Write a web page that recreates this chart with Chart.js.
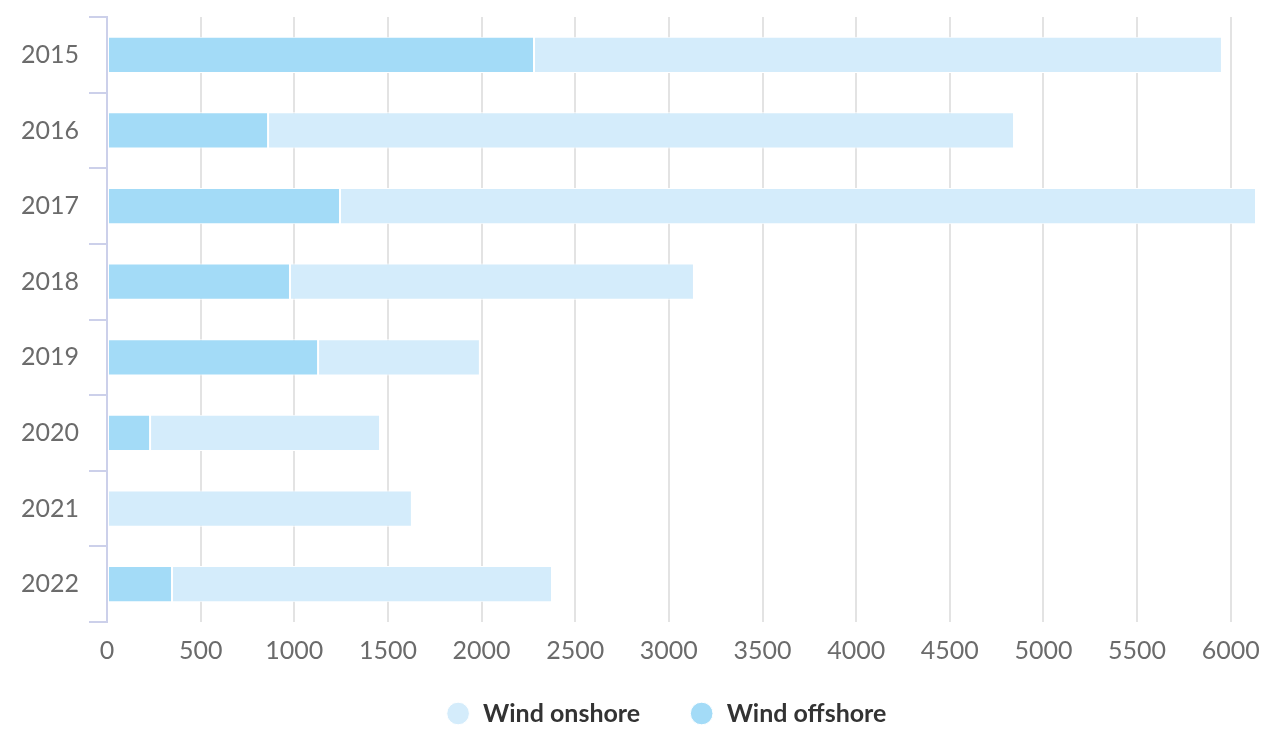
<!DOCTYPE html>
<html>
<head>
<meta charset="utf-8">
<script src="https://cdn.jsdelivr.net/npm/chart.js@4"></script>
<style>
html,body{margin:0;padding:0;background:#fff;}
#wrap{width:1263px;height:729px;}
</style>
</head>
<body>
<div id="wrap"><canvas id="c" width="1263" height="729"></canvas></div>
<script>
const categories = ["2015","2016","2017","2018","2019","2020","2021","2022"];
const offshore = [2280, 860, 1244, 977, 1127, 230, 0, 347];
const onshore  = [3673, 3983, 4891, 2157, 864, 1228, 1628, 2029];
const seriesNames = ["Wind offshore", "Wind onshore"];
const xMax = 6135;
const xStep = 500;

const FONT = "Lato, 'DejaVu Sans', sans-serif";

const legendFit = {
  id: 'legendFit',
  afterInit(chart) {
    const lg = chart.legend;
    const orig = lg.fit;
    lg.fit = function () { orig.call(this); this.height = 68; };
  },
  afterLayout(chart) {
    const lg = chart.legend;
    lg.left += 38; lg.right += 38;
    lg.top -= 9;
  }
};

new Chart(document.getElementById('c'), {
  type: 'bar',
  data: {
    labels: categories,
    datasets: [
      { label: seriesNames[0], data: offshore, backgroundColor: '#a3dbf7', borderColor: '#ffffff', borderWidth: 1, borderSkipped: false, barPercentage: 0.96, categoryPercentage: 0.5 },
      { label: seriesNames[1], data: onshore, backgroundColor: '#d4ecfb', borderColor: '#ffffff', borderWidth: 1, borderSkipped: false, barPercentage: 0.96, categoryPercentage: 0.5 }
    ]
  },
  plugins: [legendFit],
  options: {
    indexAxis: 'y',
    responsive: false,
    animation: false,
    layout: { padding: { top: 17, right: 7, left: 0, bottom: 0 } },
    scales: {
      x: {
        stacked: true,
        min: 0,
        max: xMax,
        afterBuildTicks: s => {
          const t = [];
          for (let v = 0; v <= xMax; v += xStep) t.push({ value: v });
          s.ticks = t;
        },
        afterFit: s => { s.height = 39; s.paddingRight = 0; s.paddingLeft = 0; },
        ticks: { callback: v => String(v), color: '#6b6b6b', font: { family: FONT, size: 25 }, padding: 14, autoSkip: false, maxRotation: 0 },
        grid: { color: '#e3e3e3', lineWidth: 2, drawTicks: false },
        border: { display: false }
      },
      y: {
        stacked: true,
        afterFit: s => { s.width = 107; s.paddingTop = 0; s.paddingBottom = 0; },
        ticks: { color: '#6b6b6b', font: { family: FONT, size: 25 }, padding: 10 },
        grid: { drawOnChartArea: false, color: '#ccd0ea', lineWidth: 2, tickLength: 18, offset: true },
        border: { color: '#ccd0ea', width: 2 }
      }
    },
    plugins: {
      tooltip: { enabled: false },
      legend: {
        position: 'bottom',
        reverse: true,
        labels: {
          usePointStyle: true,
          pointStyle: 'circle',
          boxWidth: 26,
          boxHeight: 16,
          color: '#333333',
          font: { family: FONT, size: 25, weight: 'bold' },
          padding: 49
        }
      }
    }
  }
});
</script>
</body>
</html>
